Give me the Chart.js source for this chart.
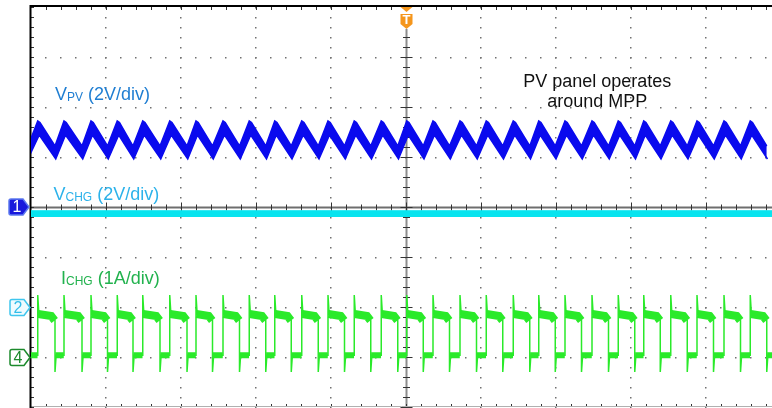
<!DOCTYPE html>
<html>
<head>
<meta charset="utf-8">
<script src="https://cdn.jsdelivr.net/npm/chart.js@4.4.1/dist/chart.umd.min.js"></script>
<style>
  html, body { margin: 0; padding: 0; background: #fff; }
  canvas { display: block; }
</style>
</head>
<body>
<canvas id="scope" width="772" height="408"></canvas>
<script>
// time axis in divisions (10 div across, trigger at 5), amplitude in divisions (0 = screen centre)
// charger switching edges
const riseT = [0.09, 0.44, 0.80, 1.15, 1.49, 1.85, 2.20, 2.56, 2.91, 3.25, 3.61, 3.96, 4.31, 4.67,
               5.01, 5.36, 5.72, 6.07, 6.43, 6.77, 7.12, 7.48, 7.83, 8.17, 8.53, 8.88, 9.24, 9.59];
// first one is the edge just left of the screen
const fallT = [-0.04, 0.32, 0.68, 1.02, 1.36, 1.72, 2.08, 2.42, 2.78, 3.13, 3.47, 3.83, 4.18, 4.53, 4.89,
               5.23, 5.58, 5.94, 6.29, 6.65, 6.99, 7.34, 7.70, 8.05, 8.39, 8.75, 9.10, 9.46, 9.81];

const vpvTop = [1.72, 1.22];   // upper edge of the trace: peak, valley
const vpvBot = [1.44, 0.96];   // lower edge: peak, valley
const vchgBand = [-0.075, -0.19];
const ichgHigh = [-2.14, -2.18, -2.27];  // on-time level: start, before droop, at edge
const ichgLow = -2.965;
const ichgSpike = [-1.76, -3.30];
const chRef = [0, -2, -3];     // markers 1, 2, 4

const XMAX = (772 - 31) / 75;

// VPV: filled band between two envelopes
const vpvUp = [{x: fallT[0], y: vpvTop[1]}];
const vpvLo = [{x: fallT[0], y: vpvBot[1]}];
riseT.forEach((r, i) => {
  vpvUp.push({x: r, y: vpvTop[0]}, {x: r + 0.03, y: vpvTop[0] - 0.03}, {x: fallT[i + 1], y: vpvTop[1]});
  vpvLo.push({x: r + 0.02, y: vpvBot[0]}, {x: fallT[i + 1] + 0.01, y: vpvBot[1]});
});

// ICHG: thin trace with edges and spikes, plus thick noisy levels
const iLine = [{x: 0, y: ichgLow}];
const iHigh = [];
const iLow = [{x: 0, y: ichgLow}];
riseT.forEach((r, i) => {
  const f = fallT[i + 1];
  iLine.push({x: r, y: ichgLow}, {x: r, y: ichgSpike[0]}, {x: r + 0.015, y: ichgHigh[0]},
             {x: f - 0.05, y: ichgHigh[1]}, {x: f, y: ichgHigh[2]}, {x: f, y: ichgSpike[1]},
             {x: f + 0.015, y: ichgLow});
  iLow.push({x: r - 0.003, y: ichgLow}, {x: r, y: null}, {x: f + 0.005, y: ichgLow});
  iHigh.push({x: r + 0.006, y: ichgHigh[0]}, {x: f - 0.05, y: ichgHigh[1]},
             {x: f - 0.004, y: ichgHigh[2]}, {x: f, y: null});
});
iLine.push({x: XMAX + 0.2, y: ichgLow});
iLow.push({x: XMAX + 0.2, y: ichgLow});

const FONT = '"Liberation Sans", Arial, sans-serif';

function richText(ctx, x, y, parts, color) {
  ctx.fillStyle = color;
  ctx.textBaseline = 'alphabetic';
  ctx.textAlign = 'left';
  parts.forEach(p => {
    ctx.font = p[1] + 'px ' + FONT;
    ctx.fillText(p[0], x, y + (p[2] || 0));
    x += ctx.measureText(p[0]).width;
  });
}

function tag(ctx, tip, yc, label, fill, stroke, txt) {
  const w = 20, h = 16, l = tip - w;
  ctx.beginPath();
  ctx.moveTo(l + 2, yc - h / 2);
  ctx.lineTo(tip - 6, yc - h / 2);
  ctx.lineTo(tip, yc);
  ctx.lineTo(tip - 6, yc + h / 2);
  ctx.lineTo(l + 2, yc + h / 2);
  ctx.quadraticCurveTo(l, yc + h / 2, l, yc + h / 2 - 2);
  ctx.lineTo(l, yc - h / 2 + 2);
  ctx.quadraticCurveTo(l, yc - h / 2, l + 2, yc - h / 2);
  ctx.closePath();
  ctx.fillStyle = fill;
  ctx.fill();
  ctx.lineWidth = 1.5;
  ctx.strokeStyle = stroke;
  ctx.stroke();
  ctx.fillStyle = txt;
  ctx.font = '16px ' + FONT;
  ctx.textAlign = 'center';
  ctx.textBaseline = 'middle';
  ctx.fillText(label, l + 8, yc + 1);
}

const graticule = {
  id: 'graticule',
  beforeDatasetsDraw(chart) {
    const {ctx, chartArea: a, scales: {x, y}} = chart;
    ctx.save();
    // dotted grid
    ctx.fillStyle = '#707070';
    for (let d = 1; d <= 10; d++) {
      if (d === 5) continue;
      const px = Math.round(x.getPixelForValue(d));
      for (let k = -20; k <= 20; k++) {
        ctx.fillRect(px - 1, Math.round(y.getPixelForValue(k / 5)), 1.5, 1.5);
      }
    }
    for (let m = -3; m <= 3; m++) {
      if (m === 0) continue;
      const py = Math.round(y.getPixelForValue(m));
      for (let k = 1; k <= 50; k++) {
        ctx.fillRect(Math.round(x.getPixelForValue(k / 5)) - 1, py, 1.5, 1.5);
      }
    }
    // centre lines
    const cx = x.getPixelForValue(5) + 0.5, cy = y.getPixelForValue(0) + 0.5;
    ctx.strokeStyle = '#8c8c8c';
    ctx.lineWidth = 2;
    ctx.beginPath();
    ctx.moveTo(cx, 29); ctx.lineTo(cx, a.bottom);
    ctx.stroke();
    ctx.strokeStyle = '#6e6e6e';
    ctx.beginPath();
    ctx.moveTo(a.left, cy); ctx.lineTo(a.right, cy);
    ctx.stroke();
    // ticks on centre lines and borders
    ctx.strokeStyle = '#333';
    ctx.lineWidth = 1;
    ctx.beginPath();
    for (let k = 1; k <= 50; k++) {
      const px = Math.round(x.getPixelForValue(k / 5)) + 0.5;
      const t = k % 5 === 0 ? 5 : 3;
      ctx.moveTo(px, cy - t); ctx.lineTo(px, cy + t);
      ctx.moveTo(px, a.top); ctx.lineTo(px, a.top + 3);
      ctx.moveTo(px, a.bottom); ctx.lineTo(px, a.bottom - 3);
    }
    for (let k = -20; k <= 20; k++) {
      const py = Math.round(y.getPixelForValue(k / 5)) + 0.5;
      if (py > 30) {
        const t = k % 5 === 0 ? 6 : 3.5;
        ctx.moveTo(cx - t, py); ctx.lineTo(cx + t, py);
      }
      ctx.moveTo(a.left, py); ctx.lineTo(a.left + 3, py);
    }
    ctx.stroke();
    // frame
    ctx.strokeStyle = '#b0b0b0';
    ctx.beginPath();
    ctx.moveTo(a.left, a.bottom - 0.5); ctx.lineTo(a.right, a.bottom - 0.5);
    ctx.stroke();
    ctx.strokeStyle = '#000';
    ctx.lineWidth = 2;
    ctx.beginPath();
    ctx.moveTo(a.left - 0.5, a.top - 1); ctx.lineTo(a.right, a.top - 1);
    ctx.moveTo(a.left - 0.5, a.top - 2); ctx.lineTo(a.left - 0.5, 408);
    ctx.stroke();
    ctx.restore();
  },
  afterDatasetsDraw(chart) {
    const {ctx, scales: {x, y}} = chart;
    ctx.save();
    richText(ctx, x.getPixelForValue(0.32), y.getPixelForValue(2.15),
      [['V', 18], ['PV', 12, 1], [' (2V/div)', 18]], '#1f7ed2');
    richText(ctx, x.getPixelForValue(0.30), y.getPixelForValue(0.14),
      [['V', 18], ['CHG', 12, 1], [' (2V/div)', 18]], '#2cb2ea');
    richText(ctx, x.getPixelForValue(0.40), y.getPixelForValue(-1.54),
      [['I', 18], ['CHG', 12, 1], [' (1A/div)', 18]], '#22b24e');
    ctx.fillStyle = '#111';
    ctx.font = '18px ' + FONT;
    ctx.textAlign = 'center';
    ctx.fillText('PV panel operates', x.getPixelForValue(7.55), y.getPixelForValue(2.41));
    ctx.fillText('around MPP', x.getPixelForValue(7.55), y.getPixelForValue(2.01));

    // channel reference markers
    tag(ctx, 29, y.getPixelForValue(chRef[0]), '1', '#1818dc', '#5c78f0', '#fff');
    tag(ctx, 30, y.getPixelForValue(chRef[1]) + 0.5, '2', '#effbff', '#3fc6ee', '#33bde9');
    tag(ctx, 30, y.getPixelForValue(chRef[2]) + 0.5, '4', '#ffffff', '#1c8a2c', '#1c8a2c');

    // trigger marker
    const tx = x.getPixelForValue(5) + 0.5;
    ctx.fillStyle = '#f5961c';
    ctx.beginPath();
    ctx.moveTo(tx - 6, 7); ctx.lineTo(tx + 6, 7); ctx.lineTo(tx, 12); ctx.closePath();
    ctx.fill();
    ctx.beginPath();
    ctx.moveTo(tx - 6, 14); ctx.lineTo(tx + 6, 14); ctx.lineTo(tx + 6, 24);
    ctx.lineTo(tx, 29); ctx.lineTo(tx - 6, 24); ctx.closePath();
    ctx.fill();
    ctx.fillStyle = '#fff';
    ctx.font = 'bold 13px ' + FONT;
    ctx.textAlign = 'center';
    ctx.textBaseline = 'middle';
    ctx.fillText('T', tx, 20);
    ctx.restore();
  }
};

const blue = '#0a0aee', cyan = '#08e4ef', green = '#2aea2a';

function trace(data, color, w, fillNext) {
  return {
    data: data,
    borderColor: color,
    backgroundColor: color,
    borderWidth: w,
    borderCapStyle: 'butt',
    pointRadius: 0,
    tension: 0,
    spanGaps: false,
    fill: fillNext ? '+1' : false
  };
}

new Chart(document.getElementById('scope'), {
  type: 'line',
  data: {
    datasets: [
      trace(vpvUp, blue, 1.5, true),
      trace(vpvLo, blue, 1.5, false),
      trace([{x: 0, y: vchgBand[0]}, {x: XMAX + 0.2, y: vchgBand[0]}], cyan, 1, true),
      trace([{x: 0, y: vchgBand[1]}, {x: XMAX + 0.2, y: vchgBand[1]}], cyan, 1, false),
      trace(iLine, green, 1.5, false),
      trace(iHigh, green, 8, false),
      trace(iLow, green, 6, false)
    ]
  },
  options: {
    responsive: false,
    devicePixelRatio: 1,
    animation: false,
    parsing: false,
    layout: { padding: { left: 31, top: 7, right: 0, bottom: 1 } },
    scales: {
      x: { type: 'linear', min: 0, max: XMAX, display: false },
      y: { type: 'linear', min: -4, max: 4, display: false }
    },
    plugins: { legend: { display: false }, tooltip: { enabled: false } }
  },
  plugins: [graticule]
});
</script>
</body>
</html>
